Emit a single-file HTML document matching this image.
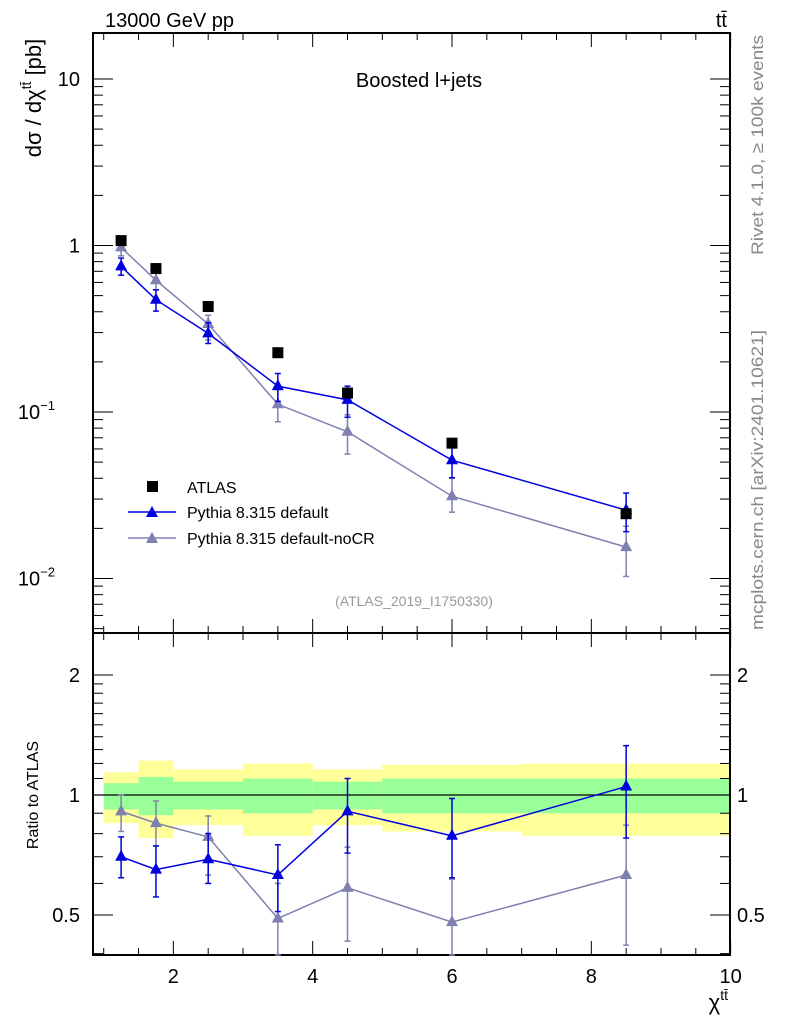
<!DOCTYPE html>
<html><head><meta charset="utf-8"><style>
html,body{margin:0;padding:0;background:#fff;}
svg{display:block;font-family:"Liberation Sans",sans-serif;}
</style></head><body>
<svg id="chart" width="786" height="1024" xmlns="http://www.w3.org/2000/svg">
<g id="bands"></g>
<g id="axes"></g>
<g id="series"></g>
<text x="105" y="27" font-size="20">13000 GeV pp</text>
<text x="727" y="27" font-size="20" text-anchor="end">tt̄</text>
<text x="419" y="87" font-size="20" text-anchor="middle">Boosted l+jets</text>
<text x="414" y="606" font-size="14" fill="#999" text-anchor="middle">(ATLAS_2019_I1750330)</text>
<text transform="translate(41,98) rotate(-90)" font-size="22" text-anchor="middle">dσ / dχ<tspan font-size="14" dy="-10">tt̄</tspan><tspan dy="10"> [pb]</tspan></text>
<text transform="translate(38,795) rotate(-90)" font-size="16" text-anchor="middle">Ratio to ATLAS</text>
<text x="728" y="1010" font-size="22" text-anchor="end">χ<tspan font-size="14" dy="-10">tt̄</tspan></text>
<text transform="translate(763,145) rotate(-90)" font-size="17" fill="#888" text-anchor="middle" textLength="220" lengthAdjust="spacingAndGlyphs">Rivet 4.1.0, ≥ 100k events</text>
<text transform="translate(763,480) rotate(-90)" font-size="17" fill="#888" text-anchor="middle" textLength="300" lengthAdjust="spacingAndGlyphs">mcplots.cern.ch [arXiv:2401.10621]</text>
<g>
<rect x="147" y="481" width="11" height="11" fill="#000"/>
<text x="187" y="493" font-size="16">ATLAS</text>
<line x1="128" y1="512" x2="176" y2="512" stroke="#0000e0" stroke-width="1.5"/>
<path d="M152,506 L158,517 L146,517 Z" fill="#0000e0"/>
<text x="187" y="518" font-size="16">Pythia 8.315 default</text>
<line x1="128" y1="538" x2="176" y2="538" stroke="#8080b0" stroke-width="1.5"/>
<path d="M152,532 L158,543 L146,543 Z" fill="#8080b0"/>
<text x="187" y="544" font-size="16">Pythia 8.315 default-noCR</text>
</g>
</svg>
<script>
const xCenters=[1.25,1.75,2.5,3.5,4.5,6,8.5];
const binEdges=[1,1.5,2,3,4,5,7,10];
const atlasVals=[1.07,0.727,0.43,0.227,0.13,0.065,0.0245];
const defRatio=[0.70,0.65,0.69,0.63,0.91,0.79,1.05];
const defLo=[0.62,0.555,0.60,0.51,0.715,0.62,0.78];
const defHi=[0.785,0.745,0.80,0.75,1.10,0.98,1.33];
const nocrRatio=[0.91,0.85,0.785,0.49,0.585,0.48,0.63];
const nocrLo=[0.81,0.745,0.63,0.385,0.43,0.385,0.42];
const nocrHi=[1.0,0.966,0.886,0.60,0.74,0.615,0.84];
const yellowLo=[0.85,0.78,0.84,0.79,0.84,0.81,0.79];
const yellowHi=[1.14,1.22,1.16,1.20,1.16,1.19,1.20];
const greenLo=[0.92,0.89,0.92,0.90,0.92,0.90,0.90];
const greenHi=[1.07,1.11,1.08,1.10,1.08,1.10,1.10];
const xTicks=[2,4,6,8,10];
const mainTicks=[10,1,0.1,0.01];
const ratioTicks=[2,1,0.5];

const NS="http://www.w3.org/2000/svg";
const L=93,R=730,T=33,MB=633,RB=955;
const X=v=>103.7+(v-1)*69.66;
const YM=v=>245.5-Math.log10(v)*166.5;
const YR=v=>795-Math.log2(v)*120;
function mk(parent,tag,attrs){const e=document.createElementNS(NS,tag);for(const k in attrs)e.setAttribute(k,attrs[k]);parent.appendChild(e);return e;}
const bands=document.getElementById('bands'),axes=document.getElementById('axes'),series=document.getElementById('series');

for(let i=0;i<7;i++){
  const x1=X(binEdges[i]),x2=X(binEdges[i+1]);
  const y=mk(bands,'rect',{x:x1,y:YR(yellowHi[i]),width:x2-x1,height:YR(yellowLo[i])-YR(yellowHi[i]),fill:'#ffff99'});
  
  
  const g=mk(bands,'rect',{x:x1,y:YR(greenHi[i]),width:x2-x1,height:YR(greenLo[i])-YR(greenHi[i]),fill:'#99ff99'});
  
  
}
const one=mk(axes,'line',{x1:L,x2:R,y1:YR(1),y2:YR(1),stroke:'#000','stroke-width':1.2});



[[T,MB],[MB,RB]].forEach((p,i)=>{const f=mk(axes,'rect',{x:L,y:p[0],width:R-L,height:p[1]-p[0],fill:'none',stroke:'#000','stroke-width':2});

});

for(let v=1;v<=10.001;v+=0.5){
  const major=Math.abs(v-Math.round(v/2)*2)<1e-6&&v>=2;
  const len=major?14:7,x=X(v);
  [[MB,1],[T,-1],[RB,1]].forEach(([yb,d])=>{
    if(yb===MB){mk(axes,'line',{x1:x,x2:x,y1:MB,y2:MB-len,stroke:'#000'});mk(axes,'line',{x1:x,x2:x,y1:MB,y2:MB+len,stroke:'#000'});}
    else mk(axes,'line',{x1:x,x2:x,y1:yb,y2:yb+(yb===T?len:-len),stroke:'#000'});
  });
}
xTicks.forEach(v=>{const t=mk(axes,'text',{x:X(v),y:983,'font-size':20,'text-anchor':'middle'});t.textContent=v;

});

for(let d=-3;d<=1;d++)for(let m=1;m<=9;m++){
  const v=m*Math.pow(10,d),y=YM(v);if(y<T||y>MB)continue;
  const len=m===1?20:10;
  mk(axes,'line',{x1:L,x2:L+len,y1:y,y2:y,stroke:'#000'});
  mk(axes,'line',{x1:R,x2:R-len,y1:y,y2:y,stroke:'#000'});
}
const mainLbl={10:'10',1:'1',0.1:'10<tspan font-size="13" dy="-9">−1</tspan>',0.01:'10<tspan font-size="13" dy="-9">−2</tspan>'};
mainTicks.forEach(v=>{const t=mk(axes,'text',{x:v<1?55:80,y:YM(v)+7,'font-size':20,'text-anchor':'end'});t.innerHTML=mainLbl[v];

});

[0.4,0.5,0.6,0.7,0.8,0.9,1,1.1,1.2,1.3,1.4,1.5,1.6,1.7,1.8,1.9,2].forEach(v=>{
  const y=YR(v);if(y<MB||y>RB)return;
  const len=(v===0.5||v===1||v===2)?20:10;
  mk(axes,'line',{x1:L,x2:L+len,y1:y,y2:y,stroke:'#000'});
  mk(axes,'line',{x1:R,x2:R-len,y1:y,y2:y,stroke:'#000'});
});
ratioTicks.forEach(v=>{
  const a=mk(axes,'text',{x:80,y:YR(v)+7,'font-size':20,'text-anchor':'end'});a.textContent=v;
  
  
  const b=mk(axes,'text',{x:737,y:YR(v)+7,'font-size':20});b.textContent=v;
  
  
});

function drawModel(ratio,lo,hi,color,name){
  const g=mk(series,'g',{});
  
  
  const mainPts=[],ratPts=[];
  xCenters.forEach((xc,i)=>{
    const x=X(xc),mv=atlasVals[i]*ratio[i];
    mainPts.push(x+','+YM(mv));ratPts.push(x+','+YR(ratio[i]));
    [[YM(atlasVals[i]*lo[i]),YM(atlasVals[i]*hi[i]),YM(mv)],[Math.min(YR(lo[i]),RB),YR(hi[i]),YR(ratio[i])]].forEach(([y1,y2,yc])=>{
      mk(g,'line',{x1:x,x2:x,y1:y1,y2:y2,stroke:color,'stroke-width':1.5});
      mk(g,'line',{x1:x-3,x2:x+3,y1:y1,y2:y1,stroke:color,'stroke-width':1.5});
      mk(g,'line',{x1:x-3,x2:x+3,y1:y2,y2:y2,stroke:color,'stroke-width':1.5});
    });
  });
  mk(g,'polyline',{points:mainPts.join(' '),fill:'none',stroke:color,'stroke-width':1.5});
  mk(g,'polyline',{points:ratPts.join(' '),fill:'none',stroke:color,'stroke-width':1.5});
  xCenters.forEach((xc,i)=>{
    const x=X(xc);
    [YM(atlasVals[i]*ratio[i]),YR(ratio[i])].forEach(y=>{
      const p=mk(g,'path',{d:`M${x},${y-7} L${x+6},${y+4} L${x-6},${y+4} Z`,fill:color});
      
      
    });
  });
}
drawModel(nocrRatio,nocrLo,nocrHi,'#8080b0','pythia-nocr');
drawModel(defRatio,defLo,defHi,'#0000e0','pythia-default');
xCenters.forEach((xc,i)=>{
  const r=mk(series,'rect',{x:X(xc)-5.5,y:YM(atlasVals[i])-5.5,width:11,height:11,fill:'#000'});
  
  
});
</script>
</body></html>
